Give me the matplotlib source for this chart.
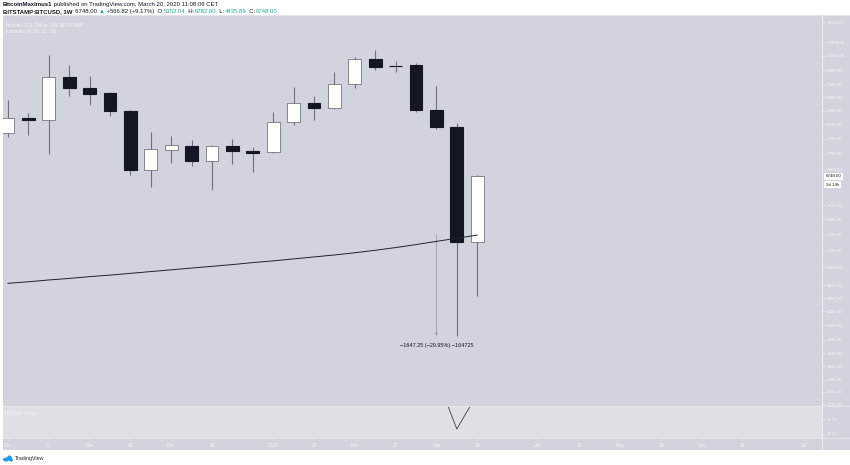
import matplotlib
matplotlib.use('Agg')
import matplotlib.pyplot as plt
import matplotlib.transforms as mtransforms
from matplotlib.patches import Rectangle, Ellipse
from matplotlib.lines import Line2D
from matplotlib.ticker import NullLocator, FixedLocator, FixedFormatter

plt.rcParams['font.family'] = ['Liberation Sans', 'DejaVu Sans']

# ---------------- data (weekly BTCUSD, Bitstamp) ----------------
weeks = ['2019-10-07', '2019-10-14', '2019-10-21', '2019-10-28', '2019-11-04', '2019-11-11',
         '2019-11-18', '2019-11-25', '2019-12-02', '2019-12-09', '2019-12-16', '2019-12-23',
         '2019-12-30', '2020-01-06', '2020-01-13', '2020-01-20', '2020-01-27', '2020-02-03',
         '2020-02-10', '2020-02-17', '2020-02-24', '2020-03-02', '2020-03-09', '2020-03-16']
opens = [7852, 8278, 8220, 9561, 9199, 9037, 8484, 6895, 7396, 7502, 7117, 7502,
         7372, 7345, 8162, 8726, 8574, 9329, 10186, 9940, 9973, 8514, 8020, 5353.04]
highs = [8818, 8424, 10330, 9973, 9594, 9070, 8514, 7880, 7771, 7662, 7528, 7689,
         7475, 8454, 9230, 8944, 9730, 10258, 10513, 10114, 10043, 9262, 8134, 6782.60]
lows = [7743, 7798, 7294, 8944, 8665, 8336, 6775, 6496, 7067, 6994, 6426, 7042,
        6846, 7320, 8077, 8220, 8545, 9199, 9800, 9730, 8454, 7964, 3850, 4435.89]
closes = [8278, 8220, 9561, 9199, 9006, 8484, 6895, 7424, 7528, 7117, 7502, 7372,
          7320, 8162, 8726, 8574, 9329, 10186, 9903, 9935, 8514, 8020, 5353.04, 6748.00]
ma_line = [4635, 4660, 4690, 4715, 4745, 4770, 4800, 4830, 4860, 4890, 4920, 4950,
           4985, 5015, 5050, 5085, 5120, 5160, 5205, 5255, 5310, 5370, 5430, 5490]
rsi = [52, 51, 60, 56, 54, 50, 40, 44, 45, 42, 44, 43,
       43, 49, 53, 52, 57, 62, 60, 60, 52, 48, 33.3, 43]

price_ticks = [11600, 10800, 10300, 9800, 9300, 8900, 8500, 8100, 7700, 7300, 6900,
               6100, 5800, 5500, 5200, 4900, 4600, 4400, 4200, 4000, 3800, 3625,
               3465, 3305, 3165, 3030]
rsi_ticks = [36, 32]
time_tick_pos = [0, 2, 4, 6, 8, 10, 13, 15, 17, 19, 21, 23, 26, 28, 30, 32, 34, 36, 39]
time_tick_labels = ['Oct', '21', 'Nov', '18', 'Dec', '16', '2020', '20', 'Feb', '17',
                    'Mar', '16', 'Apr', '20', 'May', '18', 'Jun', '15', 'Jul']

measure_start = 5500.0
measure_end = 3852.75
measure_week = 21
measure_text = '\u22121647.25 (\u221229.95%) \u2212164725'
last_price = '6748.00'
countdown = '2d 14h'

# ---------------- figure ----------------
W, H = 850, 465
fig = plt.figure(figsize=(8.5, 4.65), dpi=100)
fig.patch.set_facecolor('white')


def fx(x):
    return x / W


def fy(y):
    return 1 - y / H


BG = '#d1d4dc'
RSI_BG = '#dfe0e5'
LIGHT = '#f3f4f7'
DARK = '#131722'
TEAL = '#26a69a'

fig.patches.append(Rectangle((fx(3), fy(450)), fx(850) - fx(3), fy(15) - fy(450),
                             transform=fig.transFigure, facecolor=BG,
                             edgecolor='none', zorder=-5))

ax = fig.add_axes([fx(3), fy(406), fx(822) - fx(3), fy(15) - fy(406)])
rax = fig.add_axes([fx(3), fy(438), fx(822) - fx(3), fy(406) - fy(438)])

x = list(range(len(opens)))
xlim = (-0.245, 39.9)

# ---- price pane ----
ax.set_facecolor(BG)
ax.set_yscale('log')
ax.set_ylim(3013, 11889)
ax.set_xlim(*xlim)
for s in ['top', 'left', 'bottom']:
    ax.spines[s].set_visible(False)
ax.spines['right'].set_color('#eceef2')
ax.spines['right'].set_linewidth(0.7)
ax.yaxis.tick_right()
ax.yaxis.set_major_locator(FixedLocator(price_ticks))
ax.yaxis.set_major_formatter(FixedFormatter([f'{v:.2f}' for v in price_ticks]))
ax.yaxis.set_minor_locator(NullLocator())
ax.tick_params(axis='y', which='major', colors=LIGHT, labelsize=3.2, length=2,
               width=0.5, pad=1.5)
ax.set_xticks([])

body_w = 0.62
for i in x:
    o, h, l, c = opens[i], highs[i], lows[i], closes[i]
    up = c >= o
    wick_col = '#6f727c'
    ax.vlines(i, l, h, color=wick_col, lw=0.8, zorder=2)
    lo, hi = min(o, c), max(o, c)
    if up:
        ax.bar(i, hi - lo, bottom=lo, width=body_w, color='white',
               edgecolor='#5d606b', linewidth=0.5, zorder=3)
    else:
        ax.bar(i, hi - lo, bottom=lo, width=body_w, color=DARK,
               edgecolor=DARK, linewidth=0.8, zorder=3)

ax.plot(x, ma_line, color='#1e222d', lw=0.7, zorder=4)

ax.annotate('', xy=(measure_week, measure_end), xytext=(measure_week, measure_start),
            arrowprops=dict(arrowstyle='-|>', color='#9a9da6', lw=0.6,
                            mutation_scale=3.5, shrinkA=0, shrinkB=0), zorder=1)
ax.text(measure_week, 3727, measure_text, ha='center', va='center', fontsize=4.0,
        color=DARK)

blend = mtransforms.blended_transform_factory(ax.transAxes, ax.transData)
ax.text(1.0045, 6748, last_price, transform=blend, ha='left', va='center',
        fontsize=3.2, color=DARK, clip_on=False,
        bbox=dict(boxstyle='square,pad=0.35', facecolor='white', edgecolor='none'))
ax.annotate(countdown, xy=(1.0045, 6748), xycoords=blend, xytext=(0, -6.2),
            textcoords='offset points', ha='left', va='center', fontsize=3.2,
            color=DARK, annotation_clip=False,
            bbox=dict(boxstyle='square,pad=0.35', facecolor='white', edgecolor='none'))

fig.text(fx(6), fy(25), 'Bitcoin / U.S. Dollar, 1W, BITSTAMP', fontsize=3.4,
         color=LIGHT, ha='left', va='center')
fig.text(fx(6), fy(32), 'Ichimoku (9, 26, 52, 26)', fontsize=3.4,
         color=LIGHT, ha='left', va='center')

# ---- RSI pane ----
rax.set_facecolor(RSI_BG)
rax.set_xlim(*xlim)
rax.set_ylim(30.8, 39.7)
rax.plot(x, rsi, color='#3a3d46', lw=0.6)
for s in ['top', 'left', 'bottom']:
    rax.spines[s].set_visible(False)
rax.spines['right'].set_color('#eceef2')
rax.spines['right'].set_linewidth(0.7)
rax.yaxis.tick_right()
rax.set_yticks(rsi_ticks)
rax.set_yticklabels([f'{v:.2f}' for v in rsi_ticks])
rax.tick_params(axis='y', colors=LIGHT, labelsize=3.2, length=2, width=0.5, pad=1.5)
rax.set_xticks(time_tick_pos)
rax.set_xticklabels(time_tick_labels)
rax.tick_params(axis='x', colors=LIGHT, labelsize=3.4, length=1.5, width=0.5, pad=2.2)
fig.text(fx(5), fy(413), 'RSI (14, close)', fontsize=3.4, color='#f7f7f9',
         ha='left', va='center')

# separators
for yy in (15, 406, 438):
    fig.add_artist(Line2D([fx(3), fx(850)], [fy(yy), fy(yy)], color='#e6e8ec',
                          lw=0.6, transform=fig.transFigure))
fig.add_artist(Line2D([fx(822), fx(822)], [fy(15), fy(450)], color='#eceef2',
                      lw=0.7, transform=fig.transFigure))

# ---- header ----
ov = fig.add_axes([0, 0, 1, 1])
ov.axis('off')
ov.set_xlim(0, 1)
ov.set_ylim(0, 1)


def rich(x0, y0, parts, size):
    t = None
    for s, c, w in parts:
        if t is None:
            t = ov.text(fx(x0), fy(y0), s, color=c, fontweight=w, fontsize=size,
                        ha='left', va='center')
        else:
            t = ov.annotate(s, xy=(1, 0.5), xycoords=t, ha='left', va='center',
                            color=c, fontweight=w, fontsize=size)


rich(3, 4.5, [('BitcoinMaximus1', DARK, 'bold'),
              (' published on TradingView.com, March 20, 2020 11:08:09 CET', DARK, 'normal')],
     4.3)
rich(3, 11.5, [('BITSTAMP:BTCUSD, 1W', DARK, 'bold'),
               ('  6748.00 ', DARK, 'normal'), ('\u25b2', TEAL, 'normal'),
               (' +566.82 (+9.17%)  O:', DARK, 'normal'), ('5353.04', TEAL, 'normal'),
               ('  H:', DARK, 'normal'), ('6782.60', TEAL, 'normal'),
               ('  L:', DARK, 'normal'), ('4435.89', TEAL, 'normal'),
               ('  C:', DARK, 'normal'), ('6748.00', TEAL, 'normal')],
     4.3)

# ---- TradingView footer ----
for (cx, cy, w, h) in [(6, 459.5, 6, 4), (9.5, 458, 5, 5), (11, 460, 4, 3)]:
    ov.add_patch(Ellipse((fx(cx), fy(cy)), fx(w), h / H, facecolor='#2196f3',
                         edgecolor='none', transform=fig.transFigure))
ov.text(fx(14.5), fy(458.5), 'TradingView', fontsize=3.8, color='#1e222d',
        ha='left', va='center')

fig.savefig('out.png', dpi=100, facecolor='white')
